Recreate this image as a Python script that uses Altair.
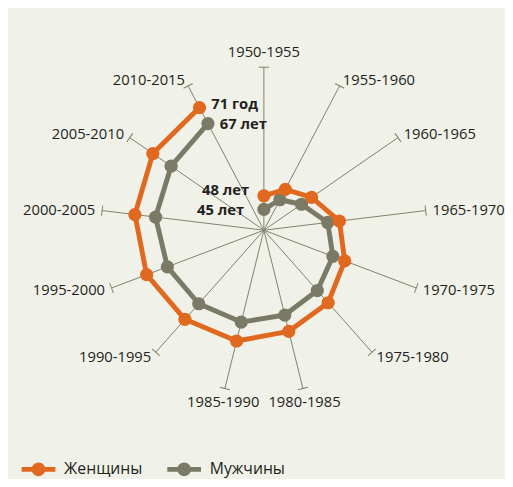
import math
import altair as alt
import pandas as pd

# ---- data ----
periods = ["1950-1955", "1955-1960", "1960-1965", "1965-1970", "1970-1975",
           "1975-1980", "1980-1985", "1985-1990", "1990-1995", "1995-2000",
           "2000-2005", "2005-2010", "2010-2015"]
women = [48.0, 50.6, 53.2, 57.2, 59.5, 61.8, 63.4, 65.6, 66.7, 68.1, 69.1, 70.2, 71.0]
men = [45.0, 48.0, 50.5, 54.6, 56.7, 58.2, 59.7, 61.3, 62.1, 63.2, 64.5, 65.3, 67.0]
series_names = ["Женщины", "Мужчины"]
first_labels = {"Женщины": "48 лет", "Мужчины": "45 лет"}
last_labels = {"Женщины": "71 год", "Мужчины": "67 лет"}

# ---- layout / style ----
W, H = 505, 471
CX, CY = 260, 222          # centre of the radar in chart pixels
K = 4.6                    # pixels per year
R0 = 40.4                  # value at the centre
RMAX = 76.4                # value at the spoke ends
ORANGE = "#e0691f"
GRAY = "#7a7a66"
SPOKE = "#7f7f6a"
BG = "#f0f1e8"
TXT = "#231f20"
FONT = "Open Sans"

n = len(periods)
ang = [i * 360.0 / n for i in range(n)]

rows = []
for name, vals in zip(series_names, [women, men]):
    for i, v in enumerate(vals):
        t = math.radians(ang[i])
        r = v - R0
        rows.append({"series": name, "idx": i, "period": periods[i], "value": v,
                     "x": r * math.sin(t), "y": r * math.cos(t),
                     "ann_first": first_labels[name] if i == 0 else "",
                     "ann_last": last_labels[name] if i == n - 1 else ""})
pts = pd.DataFrame(rows)

srows = []
off = 7 / K
for i, p in enumerate(periods):
    t = math.radians(ang[i])
    s, c = math.sin(t), math.cos(t)
    rr = RMAX - R0
    if s > 0.3:
        grp = "left"
    elif s < -0.3:
        grp = "right"
    elif c > 0:
        grp = "ctop"
    else:
        grp = "cbot"
    srows.append({"period": p, "angle": ang[i], "x0": 0.0, "y0": 0.0,
                  "x": rr * s, "y": rr * c,
                  "lx": (rr + off) * s, "ly": (rr + off) * c, "grp": grp})
spokes = pd.DataFrame(srows)

xs = alt.Scale(domain=[-CX / K, (W - CX) / K], nice=False, zero=False)
ys = alt.Scale(domain=[-(H - CY) / K, CY / K], nice=False, zero=False)
X = lambda f: alt.X(f, type="quantitative", scale=xs, axis=None)
Y = lambda f: alt.Y(f, type="quantitative", scale=ys, axis=None)

base_s = alt.Chart(spokes)
spoke_lines = base_s.mark_rule(color=SPOKE, strokeWidth=1).encode(
    x=X("x0"), y=Y("y0"), x2="x", y2="y")
caps = base_s.mark_point(shape="stroke", size=110, color=SPOKE, strokeWidth=1,
                         filled=False, opacity=1).encode(
    x=X("x"), y=Y("y"), angle=alt.Angle("angle:Q", scale=None))

def lab(grp, align, baseline):
    return base_s.transform_filter(alt.datum.grp == grp).mark_text(
        align=align, baseline=baseline, font=FONT, fontSize=15, color=TXT
    ).encode(x=X("lx"), y=Y("ly"), text="period:N")

labels = (lab("left", "left", "middle") + lab("right", "right", "middle") +
          lab("ctop", "center", "bottom") + lab("cbot", "center", "top"))

color = alt.Color("series:N", scale=alt.Scale(domain=series_names, range=[ORANGE, GRAY]),
                  legend=alt.Legend(
                      title=None, orient="none", legendX=23, legendY=457,
                      direction="horizontal",
                      symbolType="M-2.45,-0.36H-0.6V0.36H-2.45Z M0.6,-0.36H2.45V0.36H0.6Z "
                                 "M1,0A1,1 0 1 1 -1,0A1,1 0 1 1 1,0Z",
                      symbolSize=196, symbolStrokeWidth=0, symbolOpacity=1,
                      labelOffset=18, columnPadding=24, padding=0,
                      labelFont=FONT, labelFontSize=16, labelColor=TXT))

def series_layer(name):
    b = alt.Chart(pts).transform_filter(alt.datum.series == name)
    line = b.mark_line(strokeWidth=5, strokeJoin="round", strokeCap="round").encode(
        x=X("x"), y=Y("y"), order="idx:Q", color=color)
    dots = b.mark_circle(size=180, opacity=1).encode(x=X("x"), y=Y("y"), color=color)
    return line + dots

men_layer = series_layer("Мужчины")
women_layer = series_layer("Женщины")

def ann(name, field, align, dx, dy):
    return alt.Chart(pts).transform_filter(
        (alt.datum.series == name) & (alt.datum[field] != "")
    ).mark_text(align=align, baseline="middle", dx=dx, dy=dy, font=FONT, fontSize=15,
                fontWeight="bold", color=TXT).encode(x=X("x"), y=Y("y"), text=f"{field}:N")

anns = (ann("Женщины", "ann_last", "left", 12, -4) +
        ann("Мужчины", "ann_last", "left", 12, 0) +
        ann("Женщины", "ann_first", "right", -15, -6) +
        ann("Мужчины", "ann_first", "right", -20, 1))

chart = alt.layer(spoke_lines, caps, labels, men_layer, women_layer, anns).properties(
    width=W, height=H, padding=0,
    autosize=alt.AutoSizeParams(type="none"),
    background=BG,
).configure_view(stroke=None)

chart.save("out.html", embed_options={"renderer": "svg", "actions": False})
